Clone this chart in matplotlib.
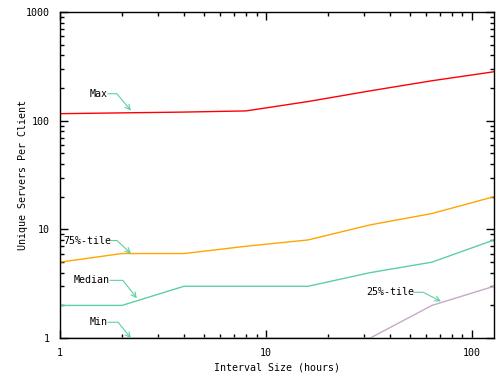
import numpy as np
import matplotlib
matplotlib.use('Agg')
import matplotlib.pyplot as plt
from matplotlib.ticker import LogLocator, NullFormatter, FixedLocator, FixedFormatter

# interval sizes (hours)
interval = [1, 2, 4, 8, 16, 32, 64, 128]
srv_max = [116, 118, 120, 123, 150, 188, 233, 282]
srv_p75 = [5, 6, 6, 7, 8, 11, 14, 20]
srv_median = [2, 2, 3, 3, 3, 4, 5, 8]
srv_p25 = [1, 1, 1, 1, 1, 1, 2, 3]
srv_min = [1, 1, 1, 1, 1, 1, 1, 1]

x_ticks = [1, 10, 100]
x_ticklabels = ['1', '10', '100']
y_ticks = [1, 10, 100, 1000]
y_ticklabels = ['1', '10', '100', '1000']

FONT = 'DejaVu Sans Mono'
FS = 7.2
arrow_clr = '#5fcfa0'
lw = 1.0

fig = plt.figure(figsize=(5, 3.86), dpi=100)
ax = fig.add_axes([0.12, 0.124, 0.868, 0.845])

ax.plot(interval, srv_max, color='#ff0000', lw=lw)
ax.plot(interval, srv_p75, color='#ffa500', lw=lw)
ax.plot(interval, srv_median, color='#5fcfa0', lw=lw)
ax.plot(interval, srv_p25, color='#c8a8c8', lw=lw)
ax.plot(interval, srv_min, color='#a8dce8', lw=lw)

ax.set_xscale('log')
ax.set_yscale('log')
ax.set_xlim(1, 128)
ax.set_ylim(1, 1000)

ax.xaxis.set_major_locator(FixedLocator(x_ticks))
ax.xaxis.set_major_formatter(FixedFormatter(x_ticklabels))
ax.yaxis.set_major_locator(FixedLocator(y_ticks))
ax.yaxis.set_major_formatter(FixedFormatter(y_ticklabels))
ax.xaxis.set_minor_locator(LogLocator(base=10, subs=np.arange(2, 10)))
ax.yaxis.set_minor_locator(LogLocator(base=10, subs=np.arange(2, 10)))
ax.xaxis.set_minor_formatter(NullFormatter())
ax.yaxis.set_minor_formatter(NullFormatter())

ax.tick_params(which='both', direction='in', top=True, right=True,
               width=1, color='black', labelsize=FS)
ax.tick_params(which='major', length=6, pad=7)
ax.tick_params(which='minor', length=3)
for lab in ax.get_xticklabels() + ax.get_yticklabels():
    lab.set_family(FONT)
for sp in ax.spines.values():
    sp.set_linewidth(1)

ax.set_xlabel('Interval Size (hours)', family=FONT, fontsize=FS)
ax.set_ylabel('Unique Servers Per Client', family=FONT, fontsize=FS)
ax.xaxis.set_label_coords(0.5, -0.075)
ax.yaxis.set_label_coords(-0.074, 0.5)

# label text, text end (x, y), arrow tip (x, y), slope of the bent part
labels = [
    ('Max', (1.71, 177), (2.21, 124), -50),
    ('75%-tile', (1.77, 7.9), (2.21, 6.0), -43),
    ('Median', (1.75, 3.4), (2.36, 2.33), -52),
    ('Min', (1.71, 1.40), (2.21, 1.0), -51),
    ('25%-tile', (52.3, 2.64), (70.7, 2.18), -27),
]
for txt, (tx, ty), (px, py), ang in labels:
    ax.text(tx, ty, txt, family=FONT, fontsize=FS, ha='right', va='center')
    ax.annotate('', xy=(px, py), xytext=(tx, ty),
                arrowprops=dict(arrowstyle='->,head_length=0.35,head_width=0.18',
                                color=arrow_clr, lw=0.8, shrinkA=0, shrinkB=0,
                                connectionstyle=f'angle,angleA=0,angleB={ang},rad=0'))

fig.savefig('out.png', dpi=100)
